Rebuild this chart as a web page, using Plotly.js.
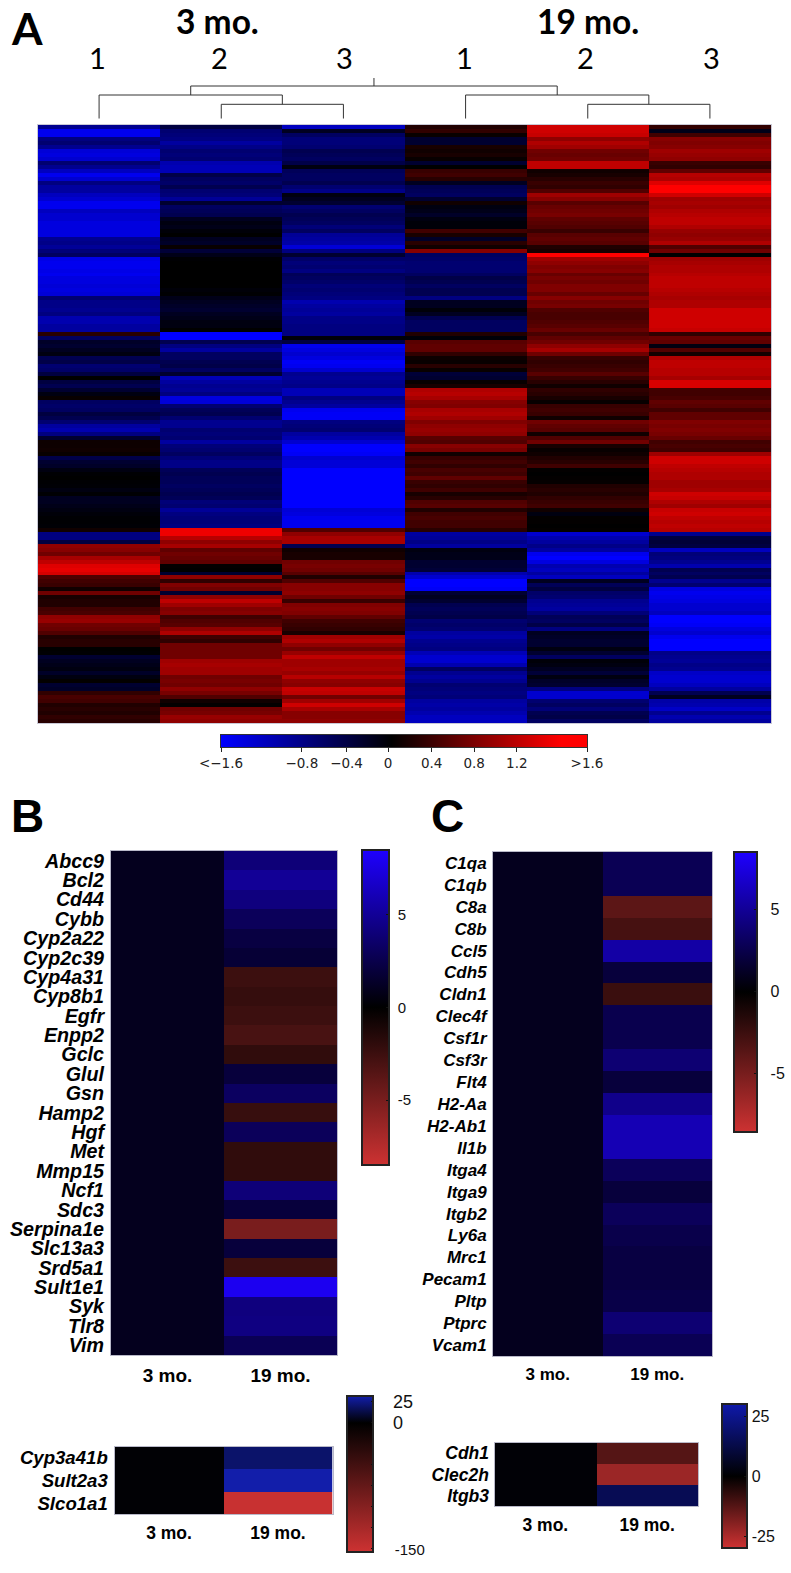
<!DOCTYPE html>
<html><head><meta charset="utf-8"><script src="https://cdn.plot.ly/plotly-3.0.1.min.js"></script>
<style>html,body{margin:0;padding:0;background:#fff}#c{width:791px;height:1573px}</style></head>
<body><div id="c"></div>
<script>
// Panel A : six samples, 150 rows (top to bottom), log-scale values
const sampleLabels = ['1','2','3','1','2','3'];
const a1 = [-0.9,-1.5,-1.5,-0.8,-0.7,-0.9,-1.35,-1.4,-1.3,-0.7,-0.9,-1.2,-1.5,-1.3,-0.8,-1.0,-1.0,-1.2,-1.3,-1.5,-1.5,-1.2,-1.3,-1.3,-1.4,-1.4,-1.4,-1.4,-0.9,-0.85,-0.95,-0.75,-0.6,-1.45,-1.5,-1.5,-1.45,-1.5,-1.4,-1.4,-1.35,-1.4,-1.35,-0.7,-0.85,-0.85,-0.9,-0.8,-1.1,-1.1,-1.0,-1.0,0.25,-0.6,-0.25,-0.3,-0.2,-0.1,-0.5,-0.45,-0.7,-0.65,-0.4,0.0,-0.4,-0.5,-0.3,-0.1,0.05,-0.6,-0.65,-0.6,-0.4,-0.5,
 -0.7,-1.0,-1.1,-0.8,-0.3,0.08,0.08,0.1,0.05,-0.45,-0.3,-0.25,-0.1,-0.02,0,-0.02,-0.03,-0.1,-0.02,-0.2,-0.2,-0.15,-0.1,-0.05,-0.02,-0.02,-0.03,0.1,-0.8,-0.8,-0.4,0.9,0.85,0.7,1.05,1.2,1.4,1.45,1.35,0.5,0.4,0.35,0.1,0.7,0.15,0.2,0.2,0.4,0.45,0.9,0.95,0.7,0.65,0.5,0.2,0.25,0.25,0.0,-0.02,-0.3,-0.2,-0.15,-0.1,-0.25,-0.1,0.02,-0.3,-0.25,0.3,0.45,0.4,0.2,0.25,0.2,0.3,0.25];
const a2 = [-0.4,-0.7,-0.75,-0.8,-1.0,-0.85,-0.7,-0.75,-0.7,-1.1,-1.15,-1.15,-0.45,-0.6,-0.65,-0.5,-0.7,-0.75,-0.95,-0.3,-0.6,-0.55,-0.5,-0.2,-0.1,-0.15,-0.05,0,-0.2,-0.25,0.05,-0.35,-0.15,-0.02,0,0,0,0,0,0,0,-0.05,-0.02,-0.15,-0.2,-0.25,-0.3,-0.2,-0.15,-0.1,-0.1,0,-1.6,-1.6,-0.5,-0.8,-1.0,-0.6,-0.6,-0.5,-0.45,-0.6,-0.3,-1.15,-1.0,-0.9,-0.95,-0.8,-1.4,-1.35,-0.7,-0.55,-0.5,-0.7,
 -0.9,-0.9,-0.7,-0.75,-0.7,-1.0,-0.75,-0.7,-0.6,-0.75,-0.85,-0.85,-0.55,-0.5,-0.55,-0.55,-0.6,-0.55,-0.5,-0.55,-0.75,-0.7,-0.95,-0.8,-0.75,-0.75,-0.8,1.5,1.5,1.15,0.9,1.05,0.6,0.7,0.65,0.6,0.02,0,-0.3,0.9,0.3,0.8,0.7,-0.3,0.9,1.2,1.0,0.8,0.85,0.4,0.5,0.55,0.9,1.1,0.4,0.3,0.7,0.7,0.7,0.7,1.0,1.05,1.0,1.0,0.7,0.75,0.7,0.9,0.75,0.5,0.1,0.02,0.7,0.75,0.95,0.9];
const a3 = [-1.2,-0.2,-0.6,-0.75,-0.75,-0.7,-0.5,-0.55,-0.6,-0.45,-0.1,-0.55,-0.6,-0.6,-0.5,-0.7,-0.85,-0.1,-0.2,-0.3,-0.7,-0.6,-0.5,-0.55,-0.6,-0.75,-0.6,-0.95,-1.0,-1.05,-1.35,-0.8,-0.3,-0.65,-0.75,-0.7,-0.8,-0.55,-0.6,-0.65,-0.75,-0.7,-0.75,-0.8,-1.1,-1.0,-0.95,-1.0,-0.85,-0.85,-0.8,-0.8,-0.8,-0.05,-0.4,-1.5,-1.4,-1.3,-1.4,-1.55,-1.5,-1.3,-0.9,-0.95,-0.9,-0.85,-1.15,-1.15,-0.8,-0.9,-1.0,-1.5,-1.55,-1.55,
 -0.8,-0.75,-0.7,-1.0,-1.1,-1.3,-1.6,-1.6,-1.55,-1.3,-1.35,-1.35,-1.6,-1.6,-1.6,-1.6,-1.6,-1.6,-1.6,-1.6,-1.6,-1.6,-1.35,-1.4,-1.5,-1.5,-1.5,0.5,0.9,1.05,1.05,-0.5,0.1,0.15,0.15,0.7,0.75,0.7,0.55,0.2,0.5,0.85,0.85,0.9,0.7,0.35,0.8,0.85,0.8,0.6,0.4,0.35,0.3,0.15,1.0,1.1,0.9,0.7,0.95,1.2,1.0,1.0,1.05,0.95,1.15,0.9,0.85,1.25,1.2,0.7,1.0,1.3,1.05,0.85,0.85,0.9];
const a4 = [0.2,0.3,0.05,-0.3,-0.3,0.15,0.1,0.15,0.05,-0.3,0.0,0.35,0.4,0.25,-0.2,-0.5,-0.55,-0.6,-0.3,0.1,-0.1,-0.15,-0.25,-0.1,-0.05,-0.05,0.4,0.15,-0.25,0.25,0.1,0.85,-0.6,-0.65,-0.7,-0.7,-0.7,-0.6,-0.45,-0.5,-0.6,-0.5,-0.5,-0.8,-0.2,-0.2,-0.05,-0.2,-0.5,-0.6,-0.6,-0.6,0.2,-0.05,0.55,0.6,0.6,0.3,0.08,0.05,0.25,0.05,-0.35,-0.3,0.05,0.15,1.1,1.15,1.05,0.85,0.8,1.05,1.1,1.0,
 0.8,0.9,0.95,0.9,0.55,0.5,0.85,0.75,0.1,0.35,0.4,0.3,0.45,0.4,0.6,0.35,0.3,0.4,0.15,0.25,0.5,0.55,0.2,0.4,0.45,0.4,0.4,0.25,-1.0,-0.95,-0.85,-1.0,-0.1,-0.15,-0.15,-0.3,-0.3,-0.35,-1.1,-1.3,-1.6,-1.6,-1.55,-0.3,-0.2,-0.3,-0.5,-0.55,-0.5,-0.45,-0.7,-0.65,-0.7,-1.0,-1.05,-0.9,-0.85,-0.8,-1.15,-1.3,-1.3,-1.1,-0.6,-0.9,-1.0,-0.9,-0.7,-0.75,-0.8,-0.75,-1.0,-1.05,-1.0,-1.1,-1.2,-1.2];
const a5 = [1.3,1.3,1.25,0.9,1.1,1.0,0.7,0.65,0.7,1.2,1.2,0.1,0.15,0.25,0.35,0.3,0.5,1.0,0.85,0.55,0.65,0.7,0.75,0.6,0.55,0.5,0.35,0.55,0.6,0.55,0.2,0.15,1.6,1.0,0.9,0.8,0.85,0.65,0.75,0.7,0.8,0.8,0.65,0.85,0.7,0.75,0.5,0.45,0.45,0.5,0.55,0.65,0.45,0.6,0.7,0.9,1.05,0.7,0.35,0.3,0.35,0.4,0.55,0.35,0.25,0.1,0.3,0.25,0.15,0.05,0.35,0.4,0.35,0.1,
 0.7,0.6,0.55,0.1,0.5,0.7,0.15,0.05,0.1,0.2,0.25,0.4,0.02,0,0.02,0.03,0.2,0.25,0.2,0.3,0.35,0.4,0.1,-0.1,0.02,0.02,0,0.02,-1.3,-1.1,-1.0,-0.85,-1.0,-1.5,-1.6,-1.4,-1.1,-1.2,-1.0,-1.2,-0.2,-0.55,-0.4,-0.65,-0.7,-0.9,-0.95,-1.0,-0.75,-0.55,-0.6,-0.45,-0.8,-0.2,-0.25,-0.3,-0.3,-0.1,-0.3,-0.6,-0.05,-0.1,-0.2,-0.35,-0.1,-0.25,-0.3,-0.8,-1.3,-1.3,-0.7,-0.6,-0.75,-0.5,-0.45,-0.6];
const a6 = [0.3,-0.15,0.4,0.85,0.8,0.85,1.0,0.95,0.9,0.35,0.3,0.6,1.15,1.1,1.4,1.6,1.6,1.3,1.0,1.05,1.0,1.1,1.15,1.2,1.2,1.1,0.95,0.9,0.95,1.1,0.5,0.7,0.0,1.0,1.05,1.1,1.1,1.15,1.2,1.2,1.2,1.15,1.1,1.05,1.1,1.1,1.3,1.3,1.3,1.3,1.3,1.25,0.3,0.65,0.6,-0.1,0.5,0.1,1.1,1.2,1.2,1.15,1.15,1.05,1.35,1.35,0.4,0.4,0.45,0.6,0.55,0.4,0.6,0.6,
 0.8,0.75,0.8,0.75,0.65,0.4,0.45,0.4,1.0,1.3,1.3,1.2,1.15,1.1,1.1,1.0,1.0,1.05,1.3,1.25,1.1,1.0,1.25,1.3,1.2,1.15,1.2,1.15,-0.9,-0.4,-0.35,-0.4,-1.2,-0.75,-0.8,-0.9,-1.1,-0.5,-0.6,-0.5,-0.9,-0.7,-1.4,-1.5,-1.45,-1.4,-1.3,-1.3,-1.2,-1.6,-1.6,-1.55,-1.4,-1.3,-1.5,-1.6,-1.6,-1.6,-0.85,-0.9,-0.95,-0.85,-0.9,-1.25,-1.3,-1.3,-1.2,-1.0,-0.5,-0.2,-1.05,-1.1,-1.25,-0.9,-1.1,-1.0];
const dendroX = [2.25,2.25,null,0.75,3.75,null,0,1.5,null,0,0,null,1.5,1.5,null,1,2,null,1,1,null,2,2,null,3,4.5,null,3,3,null,3.75,3.75,null,4.5,4.5,null,0.75,0.75,null,4,5,null,4,4,null,5,5];
const dendroY = [40.7,32.7,null,32.7,32.7,null,23.7,23.7,null,23.7,0,null,23.7,14.4,null,14.4,14.4,null,14.4,0,null,14.4,0,null,23.7,23.7,null,23.7,0,null,32.7,23.7,null,23.7,14.4,null,32.7,23.7,null,14.4,14.4,null,14.4,0,null,14.4,0];
const legendStops = [-1.6,-1.4,-1.2,-1,-0.8,-0.6,-0.4,-0.2,0,0.2,0.4,0.6,0.8,1,1.2,1.4,1.6,1.84];
const legendTickPos = [-1.6,-0.84,-0.42,-0.03,0.38,0.78,1.18,1.84];
const legendTickText = ['&lt;−1.6','−0.8','−0.4','0','0.4','0.8','1.2','&gt;1.6'];

// Panels B and C: fold change per gene
const groups = ['3 mo.','19 mo.'];
const genesB = ['Abcc9','Bcl2','Cd44','Cybb','Cyp2a22','Cyp2c39','Cyp4a31','Cyp8b1','Egfr','Enpp2','Gclc','Glul','Gsn','Hamp2','Hgf','Met','Mmp15','Ncf1','Sdc3','Serpina1e','Slc13a3','Srd5a1','Sult1e1','Syk','Tlr8','Vim'];
const valuesB = [4,5,4.2,3,2.2,1.8,-2.5,-2.2,-2.5,-3,-2,2,3.2,-2.3,3,-2,-2,4,2,-5,2,-2.5,8,4.2,4.3,2.8];
const genesC = ['C1qa','C1qb','C8a','C8b','Ccl5','Cdh5','Cldn1','Clec4f','Csf1r','Csf3r','Flt4','H2-Aa','H2-Ab1','Il1b','Itga4','Itga9','Itgb2','Ly6a','Mrc1','Pecam1','Pltp','Ptprc','Vcam1'];
const valuesC = [2.8,2.8,-3.8,-2.9,5.5,2,-2.4,2.6,2.6,3.8,2,4.6,6,6,3,2,3,2.5,2.2,2.2,2.4,3.8,2.8];
const genesB2 = ['Cyp3a41b','Sult2a3','Slco1a1'];
const valuesB2 = [20,32,-150];
const genesC2 = ['Cdh1','Clec2h','Itgb3'];
const valuesC2 = [-12.5,-22.7,15];

const W=791,H=1573;
const fx=p=>p/W, fy=p=>1-p/H;
const SANS='"Liberation Sans", Arial, sans-serif', LATO='Lato, "Open Sans", sans-serif';
const csA=[[0,'rgb(0,0,255)'],[0.5,'rgb(0,0,0)'],[1,'rgb(255,0,0)']];
const BLUE='rgb(30,0,255)', RED='rgb(205,50,50)';
const csBC=[[0,RED],[0.5,'rgb(0,0,0)'],[1,BLUE]];

const layout={width:W,height:H,margin:{l:0,r:0,t:0,b:0,autoexpand:false},paper_bgcolor:'#fff',plot_bgcolor:'#fff',showlegend:false,font:{family:SANS,color:'#000'},annotations:[],shapes:[]};
const hideAx={showgrid:false,zeroline:false,showticklabels:false,ticks:'',fixedrange:true};
function axes(n,x0,x1,y0,y1,xo,yo){
  const k=n===1?'':n;
  layout['xaxis'+k]=Object.assign({},hideAx,{domain:[fx(x0),fx(x1)],anchor:'y'+k},xo);
  layout['yaxis'+k]=Object.assign({},hideAx,{domain:[fy(y1),fy(y0)],anchor:'x'+k},yo);
}
function ann(text,x,y,size,family,weight,extra){
  layout.annotations.push(Object.assign({text,xref:'paper',yref:'paper',x:fx(x),y:fy(y),xanchor:'center',yanchor:'middle',showarrow:false,font:{size,family,weight:weight||'normal',color:'#000'}},extra||{}));
}
const border={showline:true,mirror:true,linewidth:1};
const traces=[];

// ---- Panel A
axes(1,38,771,125,723,Object.assign({range:[-0.5,5.5]},border,{linecolor:'#c9c9d6'}),Object.assign({range:[149.5,-0.5]},border,{linecolor:'#c9c9d6'}));
const rowsA=a1.map((_,i)=>[a1[i],a2[i],a3[i],a4[i],a5[i],a6[i]]);
traces.push({type:'heatmap',z:rowsA,xaxis:'x',yaxis:'y',zmin:-1.6,zmax:1.6,colorscale:csA,showscale:false,hoverinfo:'skip',zsmooth:false});
axes(2,38,771,78,118.7,{range:[-0.5,5.5]},{range:[0,40.7]});
traces.push({type:'scatter',mode:'lines',x:dendroX,y:dendroY,xaxis:'x2',yaxis:'y2',line:{color:'#333',width:1},hoverinfo:'skip',cliponaxis:false});
axes(3,221,587,735,747,Object.assign({range:[-1.6,1.84],showticklabels:true,ticks:'outside',ticklen:4,tickcolor:'#222',tickvals:legendTickPos,ticktext:legendTickText,tickangle:0,tickfont:{family:'"DejaVu Sans"',size:13.5,color:'#222'}},border,{linecolor:'#333'}),Object.assign({range:[0,1]},border,{linecolor:'#333'}));
traces.push({type:'heatmap',x:legendStops,y:[0,1],z:[legendStops,legendStops],xaxis:'x3',yaxis:'y3',zmin:-1.6,zmax:1.6,colorscale:csA,showscale:false,hoverinfo:'skip',zsmooth:'best'});
ann('A',27,28,44,LATO,'bold');
ann('3 mo.',218,20.5,33.5,LATO,'bold');
ann('19 mo.',588,20.5,33.5,LATO,'bold');
[97,219,344,464,585,711].forEach((x,i)=>ann(sampleLabels[i],x,58,29,LATO,'normal'));

// ---- Panels B/C
function panel(n,genes,vals,x0,x1,y0,y1,labelSize,xSize,standX,standY,zmin,zmax,cs,cb){
  const gfont={family:SANS,size:labelSize,weight:'bold',style:'italic',color:'#000'};
  axes(n,x0,x1,y0,y1,
    Object.assign({type:'category',showticklabels:true,tickfont:{family:SANS,size:xSize,weight:'bold',color:'#000'},ticklabelstandoff:standX,tickangle:0},border,{linecolor:'#b9b9c9'}),
    Object.assign({type:'category',autorange:'reversed',showticklabels:true,tickfont:gfont,ticklabelstandoff:standY,tickmode:'array',tickvals:genes,ticktext:genes},border,{linecolor:'#b9b9c9'}));
  traces.push({type:'heatmap',x:groups,y:genes,z:genes.map((g,i)=>[1,vals[i]]),xaxis:'x'+n,yaxis:'y'+n,zmin,zmax,colorscale:cs,hoverinfo:'skip',showscale:true,
    colorbar:Object.assign({xref:'paper',yref:'paper',xanchor:'left',yanchor:'top',xpad:0,ypad:0,lenmode:'pixels',thicknessmode:'pixels',outlinewidth:2,outlinecolor:'#222',ticks:'inside',ticklen:4,tickcolor:'#111',tickfont:{family:SANS,size:15,color:'#111'},tickmode:'array',borderwidth:0},cb)});
  // the reference's bars carry their ticks on both inner sides
  const top=cb.y, h=cb.len/H, x=cb.x;
  cb.tickvals.forEach(v=>{
    const yy=top-h*(zmax-v)/(zmax-zmin);
    layout.shapes.push({type:'line',xref:'paper',yref:'paper',x0:x,x1:x+(cb.ticklen||4)/W,y0:yy,y1:yy,line:{color:'#111',width:1}});
  });
}
const sp='&nbsp;';
panel(4,genesB,valuesB,111,337,851,1355,19.7,19,3,2,-8.5,8.5,csBC,{x:fx(362),y:fy(850),len:315,thickness:27,tickvals:[5,0,-5],ticktext:[sp+'5',sp+'0',sp+'-5']});
panel(5,genesC,valuesC,493,712,852,1356,17,17,3,2,-8.5,8.5,csBC,{x:fx(734),y:fy(851.5),len:280,thickness:23,tickvals:[5,0,-5],ticktext:[sp+sp+'5',sp+sp+'0',sp+sp+'-5'],tickfont:{family:SANS,size:16,color:'#111'}});
ann('B',27,816,46,SANS,'bold');
ann('C',447,816,46,SANS,'bold');

const csB2=[[0,RED],[154/186,'rgb(0,0,0)'],[1,'rgb(18,30,170)']];
const csC2=[[0,RED],[0.497,'rgb(0,0,0)'],[1,'rgb(15,25,170)']];
const sp3=sp+sp+sp;
panel(6,genesB2,valuesB2,114.5,332.5,1446.7,1514.3,18.6,17.5,3,2,-154,32,csB2,{x:fx(347),y:fy(1395.7),len:156,thickness:26,
  tickvals:[25,0,-25,-50,-75,-100,-125,-150],ticktext:[sp3+'25',sp3+'0','','','','','','<span style="font-size:15px">'+sp3+sp+'-150</span>'],ticklen:3,tickfont:{family:SANS,size:18,color:'#111'}});
panel(7,genesC2,valuesC2,494.5,698,1442.7,1506.3,17.5,17.5,3,1,-30,30.3,csC2,{x:fx(722),y:fy(1404),len:144,thickness:25,tickvals:[25,0,-25],ticktext:['25','0','-25'],tickfont:{family:SANS,size:16,color:'#111'}});

Plotly.newPlot('c',traces,layout,{displayModeBar:false,staticPlot:true});
</script></body></html>
